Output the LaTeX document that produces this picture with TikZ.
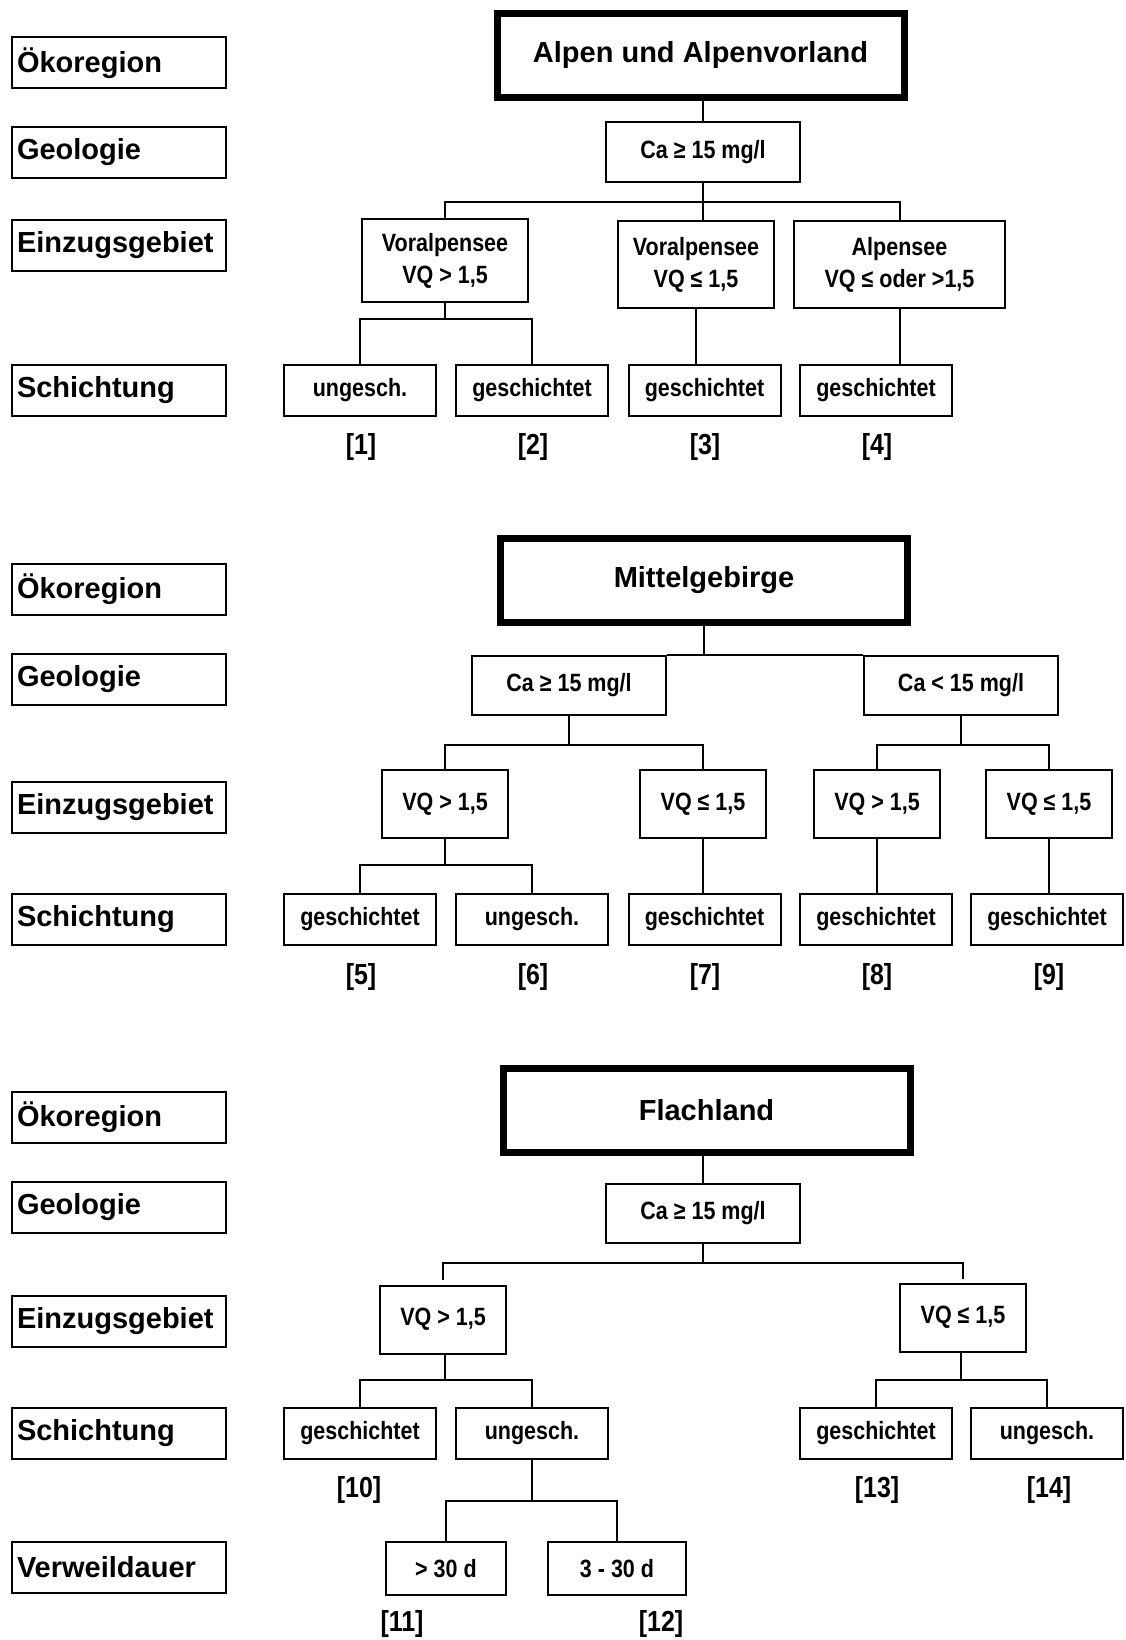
\documentclass[tikz,border=0pt]{standalone}
\usepackage{fontspec}
\setmainfont{Liberation Sans}
\newfontfamily\narrowfont[FakeStretch=0.86]{Liberation Sans}

\begin{document}
\begin{tikzpicture}[x=1pt,y=-1pt,line width=2pt]
\tikzstyle{lbl}=[draw,text width=204pt,inner xsep=5pt,inner ysep=0pt,minimum height=51pt,align=left,font=\fontsize{29}{33}\selectfont\bfseries]
\tikzstyle{reg}=[draw,line width=7pt,minimum width=407pt,minimum height=84pt,inner sep=0pt,font=\fontsize{29}{33}\selectfont\bfseries]
\tikzstyle{b}=[draw,inner sep=0pt,align=center,font=\narrowfont\fontsize{25}{32}\selectfont\bfseries]
\tikzstyle{sch}=[b,minimum width=152pt,minimum height=51pt]
\tikzstyle{vq}=[b,minimum width=126pt,minimum height=68pt]
\tikzstyle{num}=[font=\narrowfont\fontsize{29}{31}\selectfont\bfseries]
\useasboundingbox (0,0) rectangle (1125,1640);

\node[lbl] (oe1) at (119,63) {Ökoregion}; \node[lbl] (ge1) at (119,152.5) {Geologie};
\node[lbl] (ez1) at (119,245) {Einzugsgebiet}; \node[lbl] (sc1) at (119,390.5) {Schichtung};
\node[reg] (alp) at (700.5,55.5) {Alpen und Alpenvorland};
\node[b,minimum width=194pt,minimum height=60pt] (ca1) at (703,152) {Ca ≥ 15 mg/l};
\node[b,minimum width=166pt,minimum height=83pt] (va1) at (445,260.5) {Voralpensee\\VQ > 1,5};
\node[b,minimum width=156pt,minimum height=87pt] (vb1) at (696,264.5) {Voralpensee\\VQ ≤ 1,5};
\node[b,minimum width=211pt,minimum height=87pt] (ap1) at (899.5,264.5) {Alpensee\\VQ ≤ oder >1,5};
\node[sch] (s11) at (360,390.5) {ungesch.}; \node[sch] (s12) at (532,390.5) {geschichtet};
\node[sch] (s13) at (704.5,390.5) {geschichtet}; \node[sch] (s14) at (876,390.5) {geschichtet};
\coordinate (j1) at (703,202); \coordinate (k1) at (445,319);
\draw (ca1.north) -- (ca1.north |- alp.south); \draw (ca1.south) -- (j1);
\draw (va1.north) |- (j1) -| (ap1.north); \draw (j1) -- (j1 |- vb1.north);
\draw (va1.south) -- (k1); \draw (s11.north) |- (k1) -| (s12.north);
\draw (vb1.south) -- (vb1.south |- s13.north); \draw (ap1.south) -- (ap1.south |- s14.north);
\node[num] (n1) at (361,447) {[1]}; \node[num] (n2) at (533,447) {[2]};
\node[num] (n3) at (705,447) {[3]}; \node[num] (n4) at (877,447) {[4]};

\node[lbl] (oe2) at (119,589.5) {Ökoregion}; \node[lbl] (ge2) at (119,679) {Geologie};
\node[lbl] (ez2) at (119,807.5) {Einzugsgebiet}; \node[lbl] (sc2) at (119,919) {Schichtung};
\node[reg] (mit) at (704,580.5) {Mittelgebirge};
\node[b,minimum width=194pt,minimum height=59pt] (ca2) at (569,685.5) {Ca ≥ 15 mg/l};
\node[b,minimum width=194pt,minimum height=59pt] (cl2) at (961,685.5) {Ca < 15 mg/l};
\node[vq] (v21) at (445,804) {VQ > 1,5}; \node[vq] (v22) at (703,804) {VQ ≤ 1,5};
\node[vq] (v23) at (877,804) {VQ > 1,5}; \node[vq] (v24) at (1049,804) {VQ ≤ 1,5};
\node[sch] (s21) at (360,919.2) {geschichtet}; \node[sch] (s22) at (532,919.2) {ungesch.};
\node[sch] (s23) at (704.5,919.2) {geschichtet}; \node[sch] (s24) at (876,919.2) {geschichtet};
\node[sch] (s25) at (1047,919.2) {geschichtet};
\coordinate (j2) at (569,745); \coordinate (m2) at (961,745); \coordinate (k2) at (445,865);
\draw (mit.south) -- (mit.south |- ca2.north); \draw (ca2.north east) -- (cl2.north west);
\draw (ca2.south) -- (j2); \draw (v21.north) |- (j2) -| (v22.north);
\draw (cl2.south) -- (m2); \draw (v23.north) |- (m2) -| (v24.north);
\draw (v21.south) -- (k2); \draw (s21.north) |- (k2) -| (s22.north);
\draw (v22.south) -- (v22.south |- s23.north); \draw (v23.south) -- (v23.south |- s24.north);
\draw (v24.south) -- (v24.south |- s25.north);
\node[num] (n5) at (361,976.7) {[5]}; \node[num] (n6) at (533,976.7) {[6]};
\node[num] (n7) at (705,976.7) {[7]}; \node[num] (n8) at (877,976.7) {[8]};
\node[num] (n9) at (1049,976.7) {[9]};

\node[lbl] (oe3) at (119,1117) {Ökoregion}; \node[lbl] (ge3) at (119,1207.3) {Geologie};
\node[lbl] (ez3) at (119,1321.5) {Einzugsgebiet}; \node[lbl] (sc3) at (119,1433.5) {Schichtung};
\node[lbl] (vw3) at (119,1567.3) {Verweildauer};
\node[reg] (fla) at (706.5,1110.5) {Flachland};
\node[b,minimum width=194pt,minimum height=59pt] (ca3) at (703,1213.5) {Ca ≥ 15 mg/l};
\node[vq] (v31) at (443,1319.5) {VQ > 1,5}; \node[vq] (v32) at (963,1317.5) {VQ ≤ 1,5};
\node[sch] (s31) at (360,1433.5) {geschichtet}; \node[sch] (s32) at (532,1433.5) {ungesch.};
\node[sch] (s33) at (876,1433.5) {geschichtet}; \node[sch] (s34) at (1047,1433.5) {ungesch.};
\node[b,minimum width=120pt,minimum height=53pt] (d31) at (446,1568.5) {> 30 d};
\node[b,minimum width=138pt,minimum height=53pt] (d32) at (617,1568.5) {3 - 30 d};
\coordinate (j3) at (703,1263); \coordinate (k3) at (445,1380); \coordinate (m3) at (961,1380);
\coordinate (p3) at (532,1501);
\draw (ca3.north) -- (ca3.north |- fla.south); \draw (ca3.south) -- (j3);
\draw[shorten <=5pt,shorten >=4pt] (v31.north) |- (j3) -| (v32.north);
\draw (k3 |- v31.south) -- (k3); \draw (s31.north) |- (k3) -| (s32.north);
\draw (m3 |- v32.south) -- (m3); \draw (s33.north) |- (m3) -| (s34.north);
\draw (s32.south) -- (p3); \draw (d31.north) |- (p3) -| (d32.north);
\node[num] (n10) at (359,1490) {[10]}; \node[num] (n13) at (877,1490) {[13]};
\node[num] (n14) at (1049,1490) {[14]};
\node[num] (n11) at (402,1624) {[11]}; \node[num] (n12) at (661,1624) {[12]};
\end{tikzpicture}
\end{document}
